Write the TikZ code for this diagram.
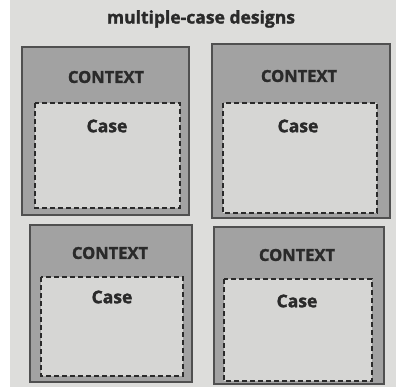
\documentclass[tikz,border=0pt]{standalone}
\usepackage{fontspec}
\setmainfont{Open Sans}[BoldFeatures={FakeBold=1.6}]
\definecolor{pagebg}{HTML}{DDDDDB}
\definecolor{ctxfill}{HTML}{A2A2A2}
\definecolor{ctxline}{HTML}{505050}
\definecolor{casefill}{HTML}{D6D6D4}
\definecolor{txt}{HTML}{2A2A2A}
\tikzset{
  ctxbox/.style={draw=ctxline, fill=ctxfill, line width=1.2pt},
  casebox/.style={draw=txt, fill=casefill, dash pattern=on 5pt off 3pt, line width=1.1pt},
  ctxlabel/.style={font=\fontsize{16.5}{18}\selectfont\bfseries, text=txt, inner sep=0pt},
  caselabel/.style={font=\fontsize{17.5}{19}\selectfont\bfseries, text=txt, inner sep=0pt},
  titlelabel/.style={font=\fontsize{17.5}{19}\selectfont\bfseries, text=txt, inner sep=0pt}
}
\begin{document}
\begin{tikzpicture}[x=1pt,y=-1pt]
\useasboundingbox (0,0) rectangle (396,387);
\fill[white] (0,0) rectangle (396,387);
\fill[pagebg] (10,0) rectangle (396,387);
\node[titlelabel] (title) at (201,19) {multiple-case designs};
% top-left
\draw[ctxbox] (22,47) rectangle (189,215);
\draw[casebox] (35,103) rectangle (180,208);
\node[ctxlabel] (c1) at (106,77) {CONTEXT};
\node[caselabel] (k1) at (107,126) {Case};
% top-right
\draw[ctxbox] (212,44) rectangle (390,218);
\draw[casebox] (223,103) rectangle (377,213);
\node[ctxlabel] (c2) at (299,76) {CONTEXT};
\node[caselabel] (k2) at (298,126) {Case};
% bottom-left
\draw[ctxbox] (30,225) rectangle (192,382);
\draw[casebox] (41,277) rectangle (183,376);
\node[ctxlabel] (c3) at (110,253) {CONTEXT};
\node[caselabel] (k3) at (112,297) {Case};
% bottom-right
\draw[ctxbox] (214,227) rectangle (384,384);
\draw[casebox] (224,279) rectangle (372,381);
\node[ctxlabel] (c4) at (297,255) {CONTEXT};
\node[caselabel] (k4) at (297,301) {Case};
\end{tikzpicture}
\end{document}
